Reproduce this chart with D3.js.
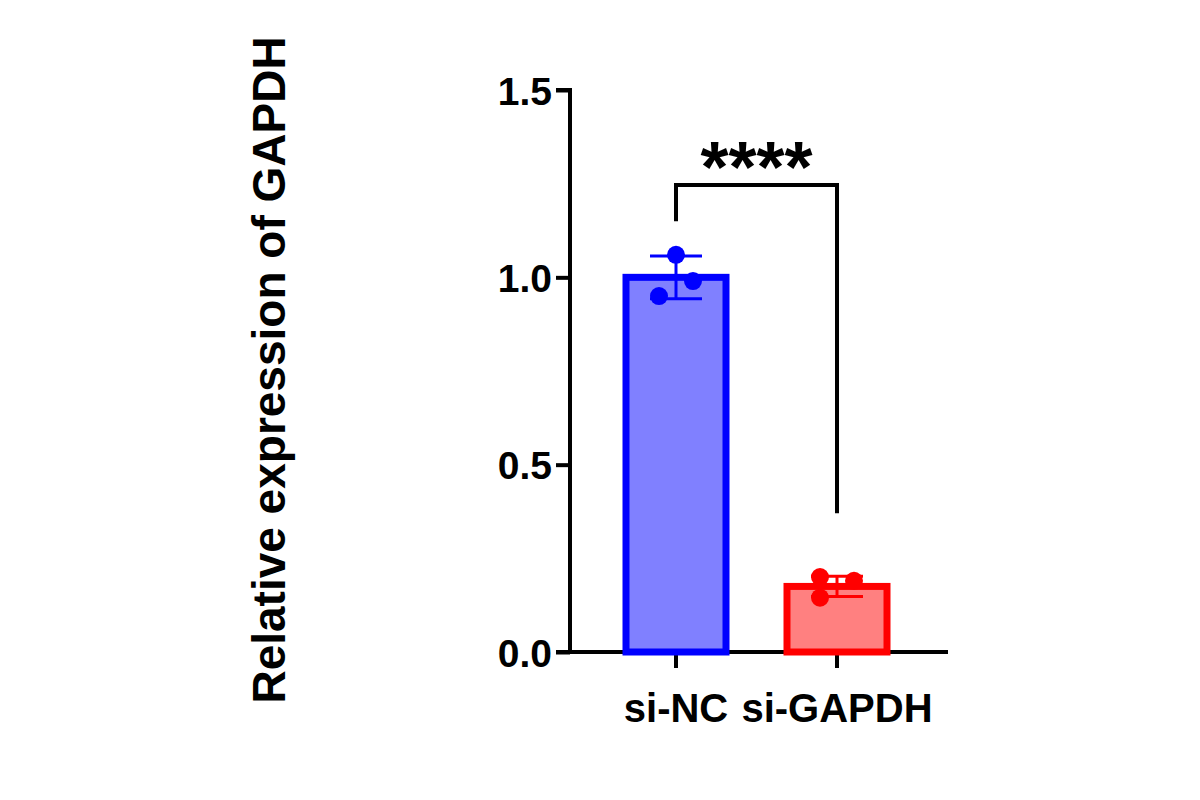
<!DOCTYPE html>
<html><head><meta charset="utf-8">
<script src="https://cdn.jsdelivr.net/npm/d3@7"></script>
<style>body{margin:0;background:#fff}text{font-family:"Liberation Sans",Arial,sans-serif;font-weight:bold}</style>
</head><body><div id="chart"></div>
<script>
const groups = ["si-NC", "si-GAPDH"];
const means = [1.0, 0.175];
const sds = [0.057, 0.027];
const points = [[1.06, 0.95, 0.99], [0.20, 0.145, 0.19]];
const pointOffsets = [[0, -17, 17], [-17, -17, 17]];
const yTicks = [0, 0.5, 1.0, 1.5];
const strokeCols = ["#0000ff", "#ff0000"];
const fillCols = ["#8080ff", "#ff8080"];

const svg = d3.select("#chart").append("svg").attr("width", 1200).attr("height", 800);
const y = d3.scaleLinear().domain([0, 1.5]).range([652, 90]);
const x = d3.scalePoint().domain(groups).range([676, 837]);
const bw = 100;

// axes
svg.append("g").attr("transform", "translate(570,0)")
  .call(d3.axisLeft(y).tickValues(yTicks).tickFormat(d3.format(".1f")).tickSize(14).tickPadding(4))
  .call(g => { g.select(".domain").attr("stroke-width", 4).attr("d", "M-14,90H0V652H-14"); g.selectAll("line").attr("stroke-width", 4); g.selectAll("text").attr("font-size", 39).attr("dy", "0.36em").attr("fill", "#000"); });
svg.append("line").attr("x1", 568).attr("x2", 948).attr("y1", 652).attr("y2", 652).attr("stroke", "#000").attr("stroke-width", 4);
groups.forEach(g => {
  svg.append("line").attr("x1", x(g)).attr("x2", x(g)).attr("y1", 652).attr("y2", 668).attr("stroke", "#000").attr("stroke-width", 4);
});
svg.selectAll(".xl").data(groups).enter().append("text")
  .attr("x", d => x(d)).attr("y", 722).attr("text-anchor", "middle").attr("font-size", 40).text(d => d);

// bars
svg.selectAll(".bar").data(groups).enter().append("rect")
  .attr("x", d => x(d) - bw / 2).attr("width", bw)
  .attr("y", (d, i) => y(means[i])).attr("height", (d, i) => y(0) - y(means[i]))
  .attr("fill", (d, i) => fillCols[i]).attr("stroke", (d, i) => strokeCols[i]).attr("stroke-width", 7);

// error bars
groups.forEach((g, i) => {
  const cx = x(g), c = strokeCols[i];
  svg.append("line").attr("x1", cx).attr("x2", cx).attr("y1", y(means[i] + sds[i])).attr("y2", y(means[i] - sds[i])).attr("stroke", c).attr("stroke-width", 3);
  [means[i] + sds[i], means[i] - sds[i]].forEach(v =>
    svg.append("line").attr("x1", cx - 26).attr("x2", cx + 26).attr("y1", y(v)).attr("y2", y(v)).attr("stroke", c).attr("stroke-width", 3));
  points[i].forEach((v, j) =>
    svg.append("circle").attr("cx", cx + pointOffsets[i][j]).attr("cy", y(v)).attr("r", 9).attr("fill", c));
});

// significance bracket
svg.append("path").attr("d", `M${x(groups[0])},${y(1.15)}V185H${x(groups[1])}V${y(0.37)}`)
  .attr("fill", "none").attr("stroke", "#000").attr("stroke-width", 4);
svg.append("text").attr("x", (x(groups[0]) + x(groups[1])) / 2).attr("y", 192).attr("text-anchor", "middle")
  .attr("font-size", 72).text("****");

// y label
svg.append("text").attr("transform", "translate(285,370) rotate(-90)").attr("text-anchor", "middle")
  .attr("font-size", 46).text("Relative expression of GAPDH");
</script></body></html>
